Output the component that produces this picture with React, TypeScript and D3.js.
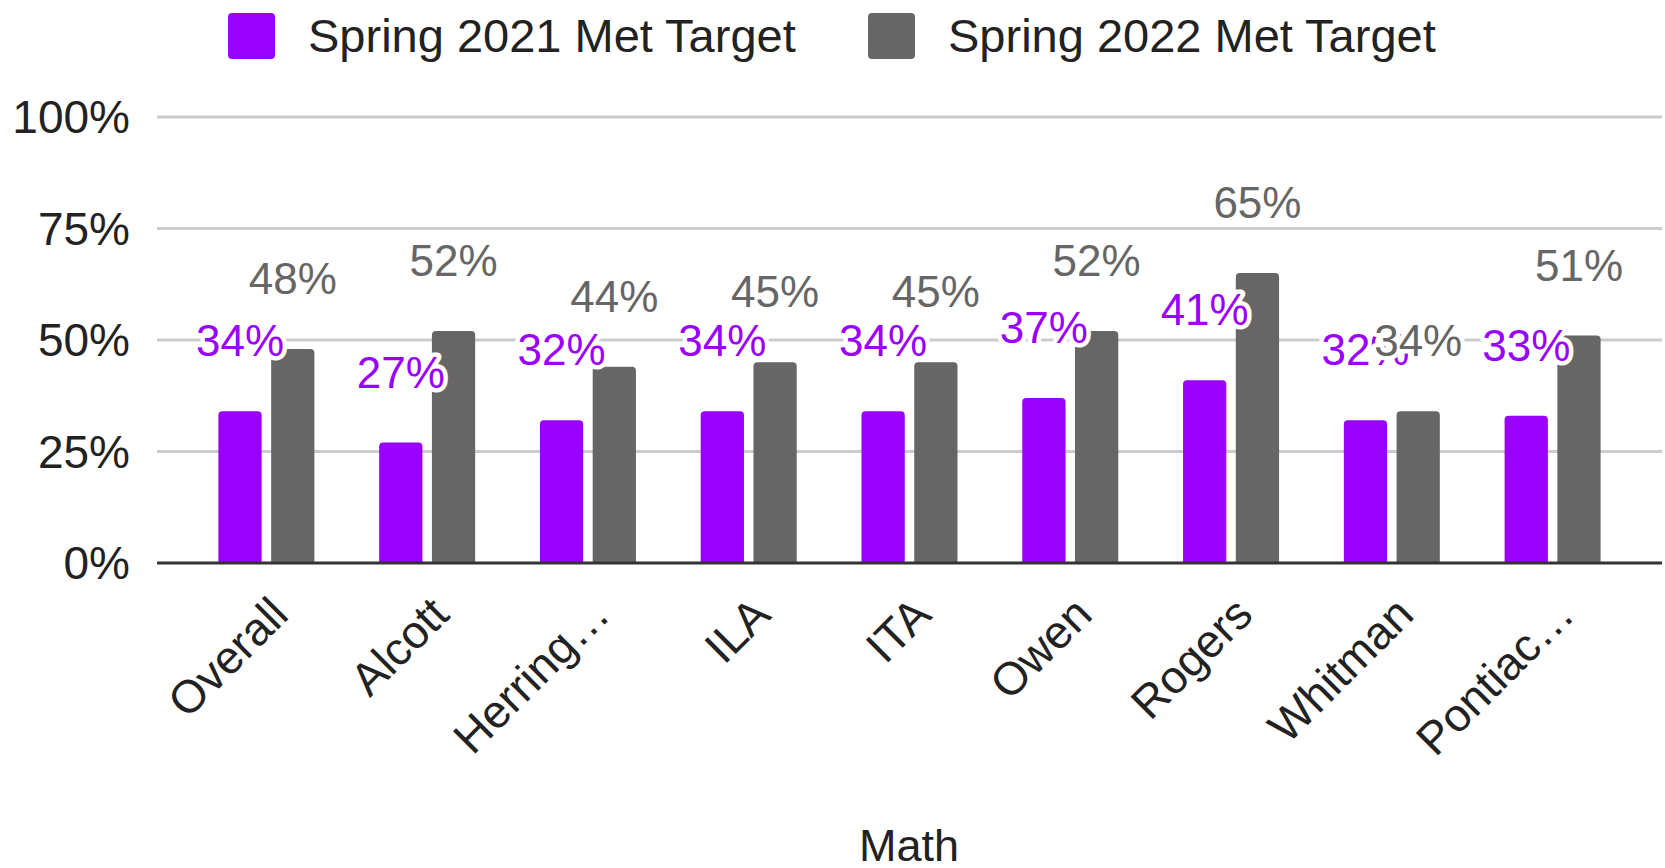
import React, { useEffect, useRef } from 'react';
import * as d3 from 'd3';

const categories = ['Overall', 'Alcott', 'Herring…', 'ILA', 'ITA', 'Owen', 'Rogers', 'Whitman', 'Pontiac…'];
const spring2021 = [34, 27, 32, 34, 34, 37, 41, 32, 33];
const spring2022 = [48, 52, 44, 45, 45, 52, 65, 34, 51];
const seriesNames = ['Spring 2021 Met Target', 'Spring 2022 Met Target'];
const yTicks = [0, 25, 50, 75, 100];

const COLORS = ['#9900ff', '#666666'];
const FONT = '"Liberation Sans", Arial, sans-serif';

function App() {
  const ref = useRef<SVGSVGElement>(null);

  useEffect(() => {
    const width = 1665;
    const height = 868;
    const svg = d3.select(ref.current);
    svg.selectAll('*').remove();

    const plotLeft = 157;
    const plotRight = 1662;
    const y = d3.scaleLinear().domain([0, 100]).range([563, 117]);
    const x = d3.scaleBand<string>().domain(categories).range([186, 1633]).padding(0);
    const inner = d3.scaleBand<string>().domain(['a', 'b']).range([0, 96]).paddingInner(0.18);
    const groupOffset = (x.bandwidth() - 96) / 2;

    const g = svg.append('g').style('font-family', FONT);

    // gridlines
    g.selectAll('line.grid')
      .data(yTicks.filter(d => d > 0))
      .enter()
      .append('line')
      .attr('x1', plotLeft)
      .attr('x2', plotRight)
      .attr('y1', d => y(d))
      .attr('y2', d => y(d))
      .attr('stroke', '#cccccc')
      .attr('stroke-width', 3);

    // y tick labels
    g.selectAll('text.ytick')
      .data(yTicks)
      .enter()
      .append('text')
      .attr('x', 130)
      .attr('y', d => y(d) + 16)
      .attr('text-anchor', 'end')
      .attr('fill', '#222')
      .style('font-size', '46px')
      .text(d => d + '%');

    const series = [spring2021, spring2022];
    const keys = ['a', 'b'];
    const barX = (si, i) => (x(categories[i]) as number) + groupOffset + (inner(keys[si]) as number);

    // bars (rounded top corners)
    series.forEach((vals, si) => {
      const bw = inner.bandwidth();
      const r = 4;
      g.selectAll('path.bar' + si)
        .data(vals)
        .enter()
        .append('path')
        .attr('fill', COLORS[si])
        .attr('d', (v, i) => {
          const x0 = barX(si, i);
          const y0 = y(v);
          const y1 = y(0);
          return `M${x0},${y1}V${y0 + r}Q${x0},${y0} ${x0 + r},${y0}H${x0 + bw - r}Q${x0 + bw},${y0} ${x0 + bw},${y0 + r}V${y1}Z`;
        });
    });

    // baseline
    g.append('line')
      .attr('x1', plotLeft)
      .attr('x2', plotRight)
      .attr('y1', y(0))
      .attr('y2', y(0))
      .attr('stroke', '#333')
      .attr('stroke-width', 3);

    // data labels with white halo
    series.forEach((vals, si) => {
      g.selectAll('text.lbl' + si)
        .data(vals)
        .enter()
        .append('text')
        .attr('x', (v, i) => barX(si, i) + inner.bandwidth() / 2)
        .attr('y', v => y(v) - 55)
        .attr('text-anchor', 'middle')
        .attr('fill', COLORS[si])
        .attr('stroke', '#fff')
        .attr('stroke-width', 9)
        .attr('stroke-linejoin', 'round')
        .style('paint-order', 'stroke')
        .style('font-size', '44px')
        .text(v => v + '%');
    });

    // category labels
    g.selectAll('text.cat')
      .data(categories)
      .enter()
      .append('text')
      .attr('transform', d => `translate(${(x(d) as number) + x.bandwidth() / 2 + 24},${617}) rotate(-45)`)
      .attr('text-anchor', 'end')
      .attr('fill', '#222')
      .style('font-size', '46px')
      .text(d => d);

    // axis title
    g.append('text')
      .attr('x', 909)
      .attr('y', 861)
      .attr('text-anchor', 'middle')
      .attr('fill', '#222')
      .style('font-size', '45px')
      .text('Math');

    // legend
    const legendX = [228, 868];
    seriesNames.forEach((name, i) => {
      g.append('rect')
        .attr('x', legendX[i])
        .attr('y', 13)
        .attr('width', 47)
        .attr('height', 46)
        .attr('rx', 4)
        .attr('fill', COLORS[i]);
      g.append('text')
        .attr('x', legendX[i] + 80)
        .attr('y', 52)
        .attr('fill', '#222')
        .style('font-size', '47px')
        .text(name);
    });

    svg.attr('width', width).attr('height', height);
  }, []);

  return (
    <svg
      ref={ref}
      width={1665}
      height={868}
      style={{ position: 'absolute', left: 0, top: 0, background: '#fff' }}
    />
  );
}

export default App;
